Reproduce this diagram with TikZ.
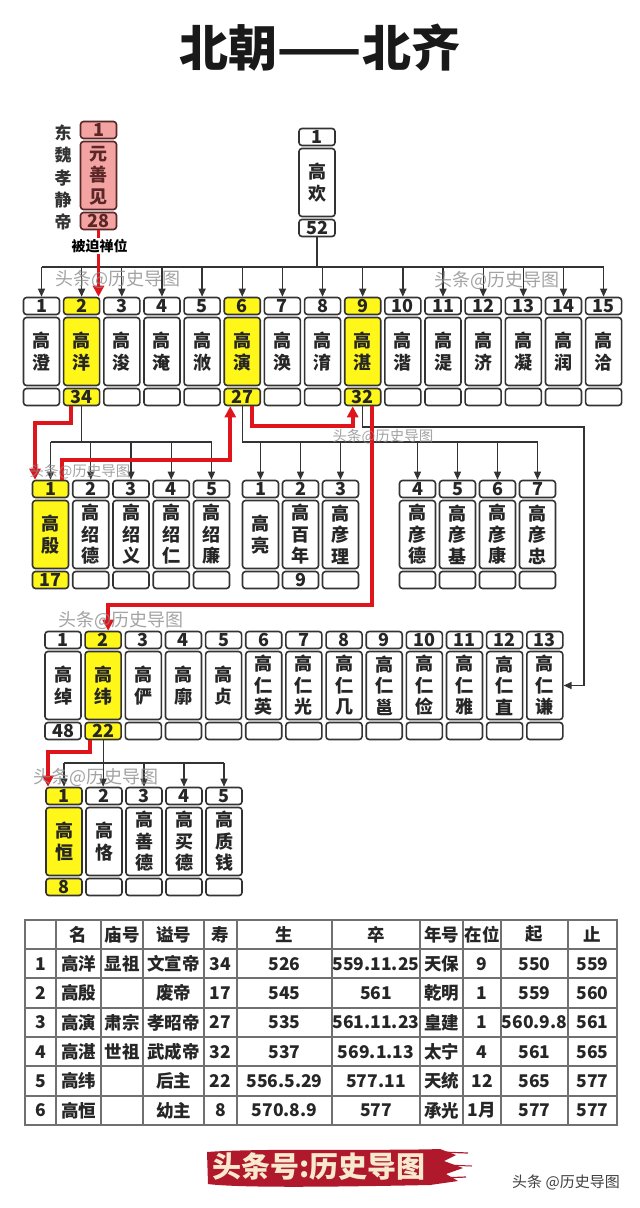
\documentclass[tikz,border=0pt]{standalone}
\usepackage{fontspec}
\setmainfont{Noto Sans CJK SC}
\usetikzlibrary{arrows.meta, calc}
\definecolor{kinyel}{HTML}{FFF71A}
\definecolor{kinpink}{HTML}{F4A3A3}
\definecolor{kinbrown}{HTML}{5A2626}
\definecolor{kinedge}{HTML}{333333}
\definecolor{kinred}{HTML}{E0141B}
\definecolor{tabgray}{HTML}{707070}
\definecolor{bannerred}{HTML}{B0192B}
\definecolor{bannertext}{HTML}{F7E8D0}
\definecolor{wmgray}{HTML}{8C8C8C}

% one person: number cell, name cell, age cell
\newcommand{\kinbox}[7][fill=white]{%
  \node[numcell, #1] (#2-n) at ({#3}, {#4+9}) {#5};
  \node[maincell, #1] (#2) at ({#3}, {#4+54.5}) {#6};
  \node[numcell, #1] (#2-b) at ({#3}, {#4+100}) {#7};
}

\begin{document}
\begin{tikzpicture}[x=1pt, y=-1pt,
    numcell/.style={draw=kinedge, line width=1.6pt, rounded corners=3pt,
      minimum width=36pt, minimum height=17pt, inner sep=0pt,
      font=\fontsize{18}{20}\selectfont\bfseries, text=black!85},
    maincell/.style={numcell, minimum height=68pt, align=center,
      font=\fontsize{18}{21.5}\selectfont\bfseries},
    graylink/.style={draw=kinedge, line width=1.3pt},
    grayarrow/.style={graylink, -{Triangle[length=8pt, width=7pt]}},
    redlink/.style={draw=kinred, line width=3.8pt, -{Triangle[length=11pt, width=11pt]}},
    tabline/.style={draw=tabgray, line width=1.8pt},
    tabcell/.style={inner sep=0pt, font=\fontsize{17.5}{20}\selectfont\bfseries, text=black!85},
    watermark/.style={text=wmgray, opacity=0.8, inner sep=0pt}]
  \useasboundingbox[fill=white] (0,0) rectangle (640,1208);

  % title
  \node[font=\fontsize{49}{52}\selectfont\bfseries, text=black!90] (title) at (320,48) {北朝——北齐};

  % Dong Wei and Gao Huan
  \kinbox[fill=kinpink, draw=kinbrown, text=kinbrown]{yb}{98.5}{121}{1}{元\\善\\见}{28}
  \node[align=center, font=\fontsize{17}{22.25}\selectfont\bfseries, text=black!80] (dw) at (63,177.5) {东\\魏\\孝\\静\\帝};
  \kinbox{gh}{317}{128}{1}{高\\欢}{52}

  % sons of Gao Huan
  \foreach \k/\nm/\age/\col in {1/高\\澄//white, 2/高\\洋/34/kinyel, 3/高\\浚//white,
      4/高\\淹//white, 5/高\\浟//white, 6/高\\演/27/kinyel, 7/高\\涣//white,
      8/高\\淯//white, 9/高\\湛/32/kinyel, 10/高\\湝//white, 11/高\\湜//white,
      12/高\\济//white, 13/高\\凝//white, 14/高\\润//white, 15/高\\洽//white}
    {\kinbox[fill=\col]{s\k}{41.5+40.15*(\k-1)}{297}{\k}{\nm}{\age}}

  % sons of Gao Yang
  \foreach \k/\nm/\age/\col in {1/高\\殷/17/kinyel, 2/高\\绍\\德//white,
      3/高\\绍\\义//white, 4/高\\绍\\仁//white, 5/高\\绍\\廉//white}
    {\kinbox[fill=\col]{c\k}{50.5+40.25*(\k-1)}{480}{\k}{\nm}{\age}}

  % sons of Gao Yan
  \foreach \k/\x/\nm/\age in {1/260.5/高\\亮/, 2/300.5/高\\百\\年/9, 3/340.5/高\\彦\\理/,
      4/417.5/高\\彦\\德/, 5/457.5/高\\彦\\基/, 6/497.5/高\\彦\\康/, 7/537.5/高\\彦\\忠/}
    {\kinbox{d\k}{\x}{480}{\k}{\nm}{\age}}

  % sons of Gao Zhan
  \foreach \k/\nm/\age/\col in {1/高\\绰/48/white, 2/高\\纬/22/kinyel, 3/高\\俨//white,
      4/高\\廓//white, 5/高\\贞//white, 6/高\\仁\\英//white, 7/高\\仁\\光//white,
      8/高\\仁\\几//white, 9/高\\仁\\邕//white, 10/高\\仁\\俭//white,
      11/高\\仁\\雅//white, 12/高\\仁\\直//white, 13/高\\仁\\谦//white}
    {\kinbox[fill=\col]{e\k}{63+40.15*(\k-1)}{631}{\k}{\nm}{\age}}

  % sons of Gao Wei
  \foreach \k/\nm/\age/\col in {1/高\\恒/8/kinyel, 2/高\\恪//white,
      3/高\\善\\德//white, 4/高\\买\\德//white, 5/高\\质\\钱//white}
    {\kinbox[fill=\col]{f\k}{64+40*(\k-1)}{787}{\k}{\nm}{\age}}

  % bus levels
  \coordinate (busH) at (0,267);
  \coordinate (busY) at (0,442);
  \coordinate (busZ) at (0,427);
  \coordinate (busW) at (0,763);
  \coordinate (rimZ) at (584,0);

  % gray family lines
  \draw[graylink] (gh-b.south) -- (gh-b.south |- busH);
  \draw[graylink] (s1-n.north |- busH) -- (s15-n.north |- busH);
  \foreach \k in {1,...,15}
    \draw[grayarrow] (s\k-n.north |- busH) -- (s\k-n.north);
  \draw[graylink] (s2-b.south) -- (s2-b.south |- busY);
  \draw[graylink] (c1-n.north |- busY) -- (c5-n.north |- busY);
  \foreach \k in {1,...,5}
    \draw[grayarrow] (c\k-n.north |- busY) -- (c\k-n.north);
  \draw[graylink] (s6-b.south) -- (s6-b.south |- busY) -- (d7-n.north |- busY);
  \foreach \k in {1,...,7}
    \draw[grayarrow] (d\k-n.north |- busY) -- (d\k-n.north);
  \draw[grayarrow] (s9-b.south) -- (s9-b.south |- busZ) -- (rimZ |- busZ)
    -- (rimZ |- e13.east) -- (e13.east);
  \draw[grayarrow] (e2-b.south) -- (e2-b.south |- f2-n.north);
  \draw[graylink] (f1-n.north |- busW) -- (f5-n.north |- busW);
  \foreach \k in {1,3,4,5}
    \draw[grayarrow] (f\k-n.north |- busW) -- (f\k-n.north);

  % red line of the throne
  \coordinate (redA) at (0,423);
  \coordinate (redB) at (0,460);
  \coordinate (redC) at (0,426);
  \coordinate (redD) at (0,605);
  \coordinate (redE) at (0,752);
  \coordinate (p1) at ([xshift=-11pt]s2-b.south);
  \coordinate (p2) at ([xshift=-15.5pt]c1-n.north);
  \coordinate (p3) at ([xshift=11.5pt]c1-n.north);
  \coordinate (p4) at ([xshift=-12pt]s6-b.south);
  \coordinate (p5) at ([xshift=10pt]s6-b.south);
  \coordinate (p6) at ([xshift=-10pt]s9-b.south);
  \coordinate (p7) at ([xshift=9.5pt]s9-b.south);
  \coordinate (p8) at ([xshift=5pt]e2-n.north);
  \coordinate (p9) at ([xshift=-13pt]e2-b.south);
  \coordinate (p10) at ([xshift=-16pt]f1-n.north);
  \draw[redlink] (yb-b.south) -- (yb-b.south |- s2-n.north);
  \node[fill=white, inner sep=1pt, font=\fontsize{14}{16}\selectfont\bfseries] (yield) at (99.5,246) {被迫禅位};
  \draw[redlink] (p1) -- (p1 |- redA) -- (p2 |- redA) -- (p2);
  \draw[redlink] (p3) -- (p3 |- redB) -- (p4 |- redB) -- (p4);
  \draw[redlink] (p5) -- (p5 |- redC) -- (p6 |- redC) -- (p6);
  \draw[redlink] (p7) -- (p7 |- redD) -- (p8 |- redD) -- (p8);
  \draw[redlink] (p9) -- (p9 |- redE) -- (p10 |- redE) -- (p10);

  % watermarks
  \node[watermark, font=\fontsize{18}{20}\selectfont] (wm1) at (118,279) {头条@历史导图};
  \node[watermark, font=\fontsize{18}{20}\selectfont] (wm2) at (497,280) {头条@历史导图};
  \node[watermark, font=\fontsize{14.5}{16}\selectfont] (wm3) at (383,437) {头条@历史导图};
  \node[watermark, font=\fontsize{14.5}{16}\selectfont] (wm4) at (80,472) {头条@历史导图};
  \node[watermark, font=\fontsize{18}{20}\selectfont] (wm5) at (121,620) {头条@历史导图};
  \node[watermark, font=\fontsize{18}{20}\selectfont] (wm6) at (96,777) {头条@历史导图};

  % table of emperors
  \draw[tabline] (25,920) rectangle (617,1125);
  \foreach \x in {56,101,143,204,237,332,420,463,501,568}
    \draw[tabline] (\x,920) -- (\x,1125);
  \foreach \y in {949,978.3,1007.7,1037,1066.3,1095.7}
    \draw[tabline] (25,\y) -- (617,\y);
  \foreach \cells [count=\r from 0] in {
      {{},名,庙号,谥号,寿,生,卒,年号,在位,起,止},
      {1,高洋,显祖,文宣帝,34,526,559.11.25,天保,9,550,559},
      {2,高殷,{},废帝,17,545,561,乾明,1,559,560},
      {3,高演,肃宗,孝昭帝,27,535,561.11.23,皇建,1,560.9.8,561},
      {4,高湛,世祖,武成帝,32,537,569.1.13,太宁,4,561,565},
      {5,高纬,{},后主,22,556.5.29,577.11,天统,12,565,577},
      {6,高恒,{},幼主,8,570.8.9,577,承光,1月,577,577}}
    {\foreach \txt [count=\c from 0] in \cells {
      \pgfmathsetmacro\cx{{40.5,78.5,122,173.5,220.5,284.5,376,441.5,482,534.5,592.5}[\c]}
      \node[tabcell] (t\r-\c) at (\cx, {934.5+29.33*\r}) {\txt};
    }}

  % banner
  \fill[bannerred] (207,1152) .. controls (260,1148) and (380,1151) .. (440,1149)
    -- (456,1155) -- (444,1161) -- (463,1168) -- (446,1174) -- (458,1181) -- (430,1185)
    .. controls (330,1187) and (240,1188) .. (208,1184) -- cycle;
  \draw[bannerred, line width=1.2pt] (440,1152) -- (468,1153);
  \draw[bannerred, line width=1pt] (445,1165) -- (472,1166);
  \draw[bannerred, line width=1.2pt] (440,1178) -- (466,1177);
  \node[text=bannertext, font=\fontsize{29}{31}\selectfont\bfseries] (bnr) at (319,1167) {头条号:历史导图};
  \node[text=black!75, font=\fontsize{15}{17}\selectfont] (sig) at (566,1182) {头条 @历史导图};
\end{tikzpicture}
\end{document}
